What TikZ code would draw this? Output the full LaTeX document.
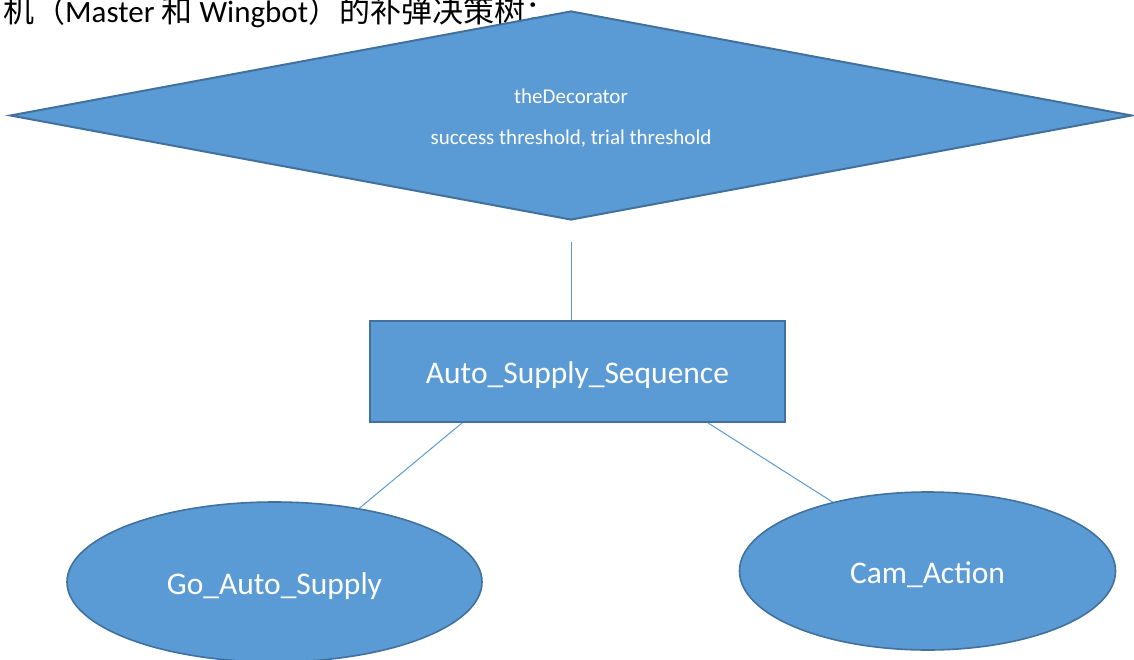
\documentclass[tikz,border=0pt]{standalone}
\usepackage{fontspec}
\setmainfont{Carlito}
\newfontfamily\cjk{Noto Sans CJK SC}
\usetikzlibrary{shapes.geometric,calc}
\definecolor{nodefill}{HTML}{5B9BD5}
\definecolor{nodeline}{HTML}{41719C}
% lower a label without changing the size it takes up
\newcommand{\lowered}[2]{\raisebox{-#1}[\height][\depth]{#2}}
\tikzset{
  shapebase/.style={fill=nodefill, draw=nodeline, text=white, inner sep=0pt},
  decorbox/.style={shapebase, diamond, shape aspect=5.37, line width=2pt,
    minimum width=1122pt, minimum height=209pt, align=center,
    font=\fontsize{21}{41}\selectfont},
  seqbox/.style={shapebase, rectangle, line width=1.6pt,
    minimum width=415pt, minimum height=101pt, font=\fontsize{31.5}{36}\selectfont},
  leafbox/.style={shapebase, ellipse, line width=1.6pt, font=\fontsize{31.5}{36}\selectfont},
  link/.style={draw=nodefill, line width=1pt}
}
\begin{document}
\begin{tikzpicture}[x=1pt,y=-1pt]
\useasboundingbox (0,0) rectangle (1134,660);
\fill[white] (0,0) rectangle (1134,660);

% heading line, partly hidden behind the diamond
\node[anchor=base west, inner sep=0pt, font=\fontsize{31}{36}\selectfont] (title) at (3,23)
  {{\cjk 机（}Master {\cjk 和} Wingbot{\cjk ）的补弹决策树：}};

% decorator
\node[decorbox] (deco) at (571,115.5)
  {\lowered{3pt}{theDecorator}\\\lowered{3pt}{success threshold, trial threshold}};

% sequence
\node[seqbox] (seq) at (577.5,371.5) {\lowered{4pt}{Auto\_Supply\_Sequence}};

% leaves
\node[leafbox, minimum width=415pt, minimum height=160pt] (go) at (274.5,582) {\lowered{4pt}{Go\_Auto\_Supply}};
\node[leafbox, minimum width=376pt, minimum height=158pt] (cam) at (927.5,571) {\lowered{4pt}{Cam\_Action}};

% connectors
\coordinate (dtail) at (571,242);
\draw[link] (dtail) -- (dtail |- seq.north);
\draw[link] ([xshift=93pt]seq.south west) -- (go.41.5);
\draw[link] ([xshift=-78pt]seq.south east) -- (cam.144.5);
\end{tikzpicture}
\end{document}
